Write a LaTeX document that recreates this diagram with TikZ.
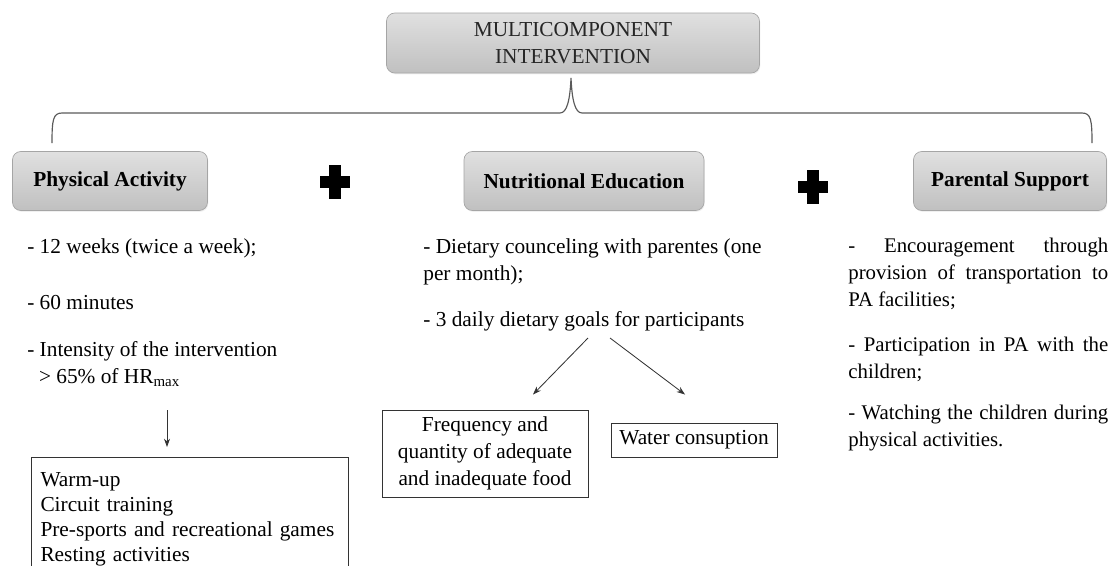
\documentclass[tikz,border=0pt]{standalone}
\usepackage{fontspec}
\setmainfont{Liberation Serif}
\usetikzlibrary{positioning,shadows,arrows.meta}
\definecolor{boxtop}{RGB}{224,224,224}
\definecolor{boxbottom}{RGB}{192,192,192}
\definecolor{boxline}{RGB}{165,165,165}
\definecolor{braceline}{RGB}{90,90,90}
\newcommand*{\fullline}[1]{\makebox[156pt][s]{#1}}

\begin{document}
\begin{tikzpicture}[x=0.6pt,y=-0.6pt]
	\tikzstyle{component}=[rectangle, draw=boxline, rounded corners=5pt, top color=boxtop, bottom color=boxbottom,
	drop shadow={opacity=0.12,shadow xshift=0.5pt,shadow yshift=-0.8pt}, text=black,
	font=\fontsize{12.8}{16}\selectfont\bfseries, minimum height=35.4pt, inner sep=0pt]
	\tikzstyle{item}=[anchor=base west, inner sep=0pt, align=left, font=\fontsize{12.8}{16}\selectfont]
	\tikzstyle{sideitem}=[item, font=\fontsize{12.5}{16}\selectfont]
	\tikzstyle{plainbox}=[rectangle, draw=black!80, line width=0.6pt, font=\fontsize{12.8}{16}\selectfont]
	\tikzstyle{arrow}=[-{Stealth[length=5pt,width=3.6pt]}, line width=0.5pt, draw=black!80]
	\tikzstyle{brace}=[-, line width=0.7pt, draw=braceline]
	\tikzstyle{plus}=[inner sep=0pt, minimum width=18pt, minimum height=20pt,
	path picture={\fill (path picture bounding box.center) +(-9pt,-3.6pt) rectangle +(9pt,3.6pt);
		\fill (path picture bounding box.center) +(-3.6pt,-10pt) rectangle +(3.6pt,10pt);}]
	\clip (0,0) rectangle (1113,565);
	
	% top box and the three components
	\node (Intervention) [component, font=\fontsize{12.8}{16.2}\selectfont, text=black!85, align=center,
	minimum width=223.8pt, minimum height=36pt] at (573,43) {MULTICOMPONENT\\INTERVENTION};
	\node (Physical) [component, minimum width=117pt] at (110,181) {Physical Activity};
	\node (Nutrition) [component, minimum width=144pt] at (584,181) {Nutritional Education};
	\node (Parental) [component, minimum width=115.8pt] at (1010,181) {Parental Support};
	\node (plusA) [plus] at (335,182) {};
	\node (plusB) [plus] at (813,187) {};
	
	% brace
	\coordinate (braceL) at (52,143);
	\coordinate (braceR) at (1092,143);
	\coordinate (braceTip) at (571,78);
	\draw[brace] (braceL) .. controls (52,120) and (53,113) .. (62,113) -- (560,113)
	.. controls (567,113) and (570,100) .. (braceTip)
	.. controls (572,100) and (575,113) .. (582,113) -- (1082,113)
	.. controls (1091,113) and (1092,120) .. (braceR);
	
	% physical activity
	\node (Weeks) [item] at (27,253) {- 12 weeks (twice a week);};
	\node (Minutes) [item] at (27,309) {- 60 minutes};
	\node (Intensity) [item] at (27,383) {- Intensity of the intervention\\\hspace*{7pt}> 65\% of HR\textsubscript{max}};
	\node (Activities) [plainbox, anchor=north west, align=left, font=\fontsize{12.8}{15}\selectfont,
	text width=179.4pt, inner xsep=5.4pt, inner ysep=7pt, minimum height=74pt] at (31,457)
	{Warm-up\\Circuit training\\Pre-sports and recreational games\\Resting activities};
	\coordinate (paStart) at (167,410);
	\draw[arrow, shorten >=6pt] (paStart) -- (paStart |- Activities.north);
	
	% nutritional education
	\node (Counseling) [item] at (423,280) {- Dietary counceling with parentes (one\\per month);};
	\node (Goals) [item] at (423,326) {- 3 daily dietary goals for participants};
	\node (Frequency) [plainbox, align=center, minimum width=123.6pt, minimum height=52.2pt, inner sep=0pt]
	at (485,453.5) {Frequency and\\quantity of adequate\\and inadequate food};
	\node (Water) [plainbox, minimum width=99.6pt, minimum height=20.4pt, inner sep=0pt] at (694,440) {Water consuption};
	\coordinate (goalsL) at (588,338);
	\coordinate (goalsR) at (610,338);
	\draw[arrow] (goalsL) -- ([xshift=28.8pt,yshift=9pt]Frequency.north);
	\draw[arrow] (goalsR) -- ([xshift=-5.4pt,yshift=16.8pt]Water.north);
	
	% parental support
	\node (Encourage) [sideitem] at (848,306)
	{\fullline{- Encouragement through}\\\fullline{provision of transportation to}\\PA facilities;};
	\node (Participate) [sideitem] at (848,378) {\fullline{- Participation in PA with the}\\children;};
	\node (Watching) [sideitem] at (848,446) {\fullline{- Watching the children during}\\physical activities.};
\end{tikzpicture}
\end{document}
